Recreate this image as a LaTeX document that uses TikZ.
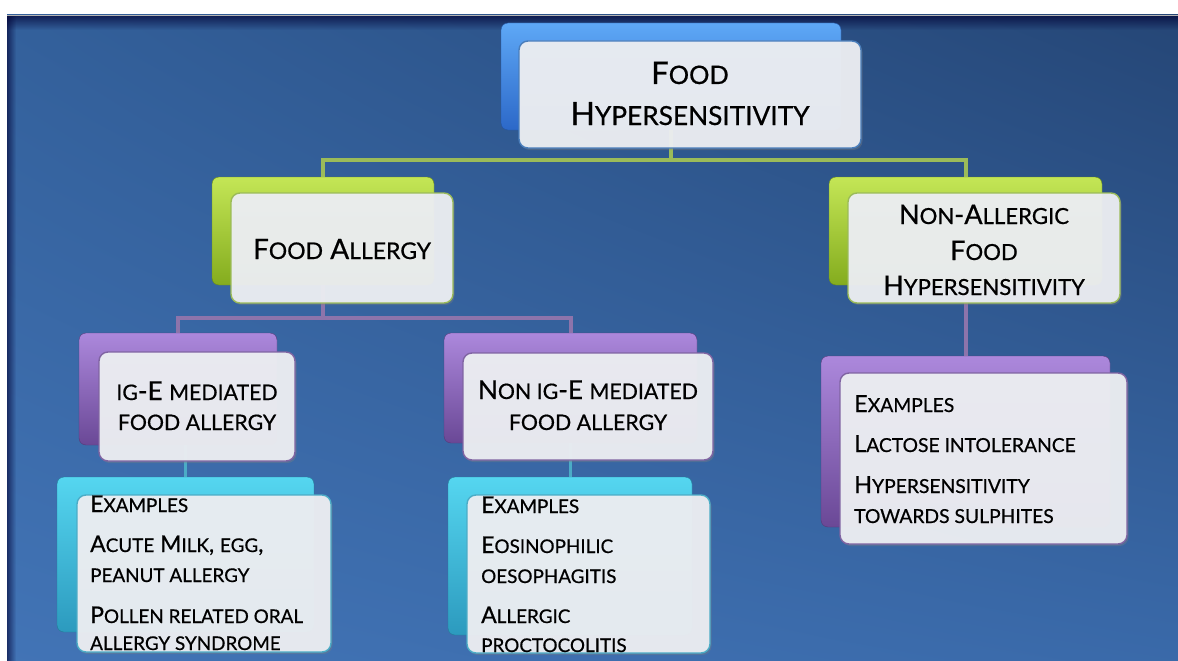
\documentclass[tikz,border=0pt]{standalone}
\usepackage{fontspec}
\setmainfont{Lato}[FakeBold=0.6]
\usetikzlibrary{fadings,shadows,shadings}
\makeatletter
\newcommand\smc[1]{{\fontsize{\fpeval{0.82*\f@size}}{0}\selectfont #1}}
\makeatother
\newcommand\fs[1]{\fontsize{#1}{#1}\selectfont}
\definecolor{bgUL}{HTML}{33609B}
\definecolor{bgUR}{HTML}{254676}
\definecolor{bgLL}{HTML}{4274B6}
\definecolor{bgLR}{HTML}{3A6AAA}
\definecolor{bluetop}{HTML}{5EA8F6}
\definecolor{bluebot}{HTML}{2C68C8}
\definecolor{blueedge}{HTML}{4A7EBB}
\definecolor{greentop}{HTML}{C4E656}
\definecolor{greenbot}{HTML}{84AC1E}
\definecolor{greenedge}{HTML}{9BBB59}
\definecolor{purptop}{HTML}{AC88DC}
\definecolor{purpbot}{HTML}{6A4896}
\definecolor{purpedge}{HTML}{8064A2}
\definecolor{cyantop}{HTML}{55D6F0}
\definecolor{cyanbot}{HTML}{2C9ABE}
\definecolor{cyanedge}{HTML}{4BACC6}
\definecolor{boxfill}{HTML}{EDEFF3}
\tikzfading[name=topdark, top color=transparent!0, bottom color=transparent!100]
\tikzfading[name=leftdark, left color=transparent!0, right color=transparent!100]
\tikzset{
  backbox/.style 2 args={shade, top color=#1, bottom color=#2, rounded corners=7pt,
    inner sep=0pt, draw=#2!80!black, line width=0.4pt},
  frontbox/.style={fill=boxfill, fill opacity=0.95, draw=#1, line width=1.4pt,
    rounded corners=9pt, inner sep=0pt,
    drop shadow={opacity=0.35, shadow xshift=1.5pt, shadow yshift=-2pt}},
  txt/.style={inner sep=0pt, anchor=base, text=black},
  ltxt/.style={inner sep=0pt, anchor=base west, text=black},
  gconn/.style={draw=greenedge, line width=4pt},
  pconn/.style={draw=purpedge!90!white, line width=4pt},
  cconn/.style={draw=cyanedge, line width=3pt}
}
\begin{document}
\begin{tikzpicture}[x=1pt,y=-1pt]
\useasboundingbox (0,0) rectangle (1178,661);
\fill[white] (-5,-5) rectangle (1185,670);
\shade[upper left=bgUL, upper right=bgUR, lower left=bgLL, lower right=bgLR]
  (7,15) rectangle (1185,670);
\fill[black!80!blue, path fading=topdark, fill opacity=0.7] (7,15) rectangle (1185,30);
\fill[black!80!blue, path fading=leftdark, fill opacity=0.6] (7,15) rectangle (16,670);
\draw[black!30, line width=0.8pt] (7,15) -- (1185,15);

% back boxes
\node[backbox={bluetop}{bluebot}, minimum width=340pt, minimum height=107pt] (b0) at (671,76.5) {};
\node[backbox={greentop}{greenbot}, minimum width=222pt, minimum height=108pt] (gl) at (323,231) {};
\node[backbox={greentop}{greenbot}, minimum width=273pt, minimum height=108pt] (gr) at (965.5,231) {};
\node[backbox={purptop}{purpbot}, minimum width=198pt, minimum height=112pt] (pl) at (178,389) {};
\node[backbox={purptop}{purpbot}, minimum width=253pt, minimum height=110pt] (pm) at (570.5,388) {};
\node[backbox={purptop}{purpbot}, minimum width=289pt, minimum height=171pt] (pr) at (965.5,441.5) {};
\node[backbox={cyantop}{cyanbot}, minimum width=257pt, minimum height=155pt] (cl) at (185.5,554.5) {};
\node[backbox={cyantop}{cyanbot}, minimum width=244pt, minimum height=158pt] (cm) at (570,556) {};

% connectors
\coordinate (j0) at (671,160);
\coordinate (j1) at (323,318);
\draw[gconn] (b0.south) -- (j0) -| (gl.north);
\draw[gconn] (j0) -| (gr.north);
\draw[pconn] (gl.south) -- (j1) -| (pl.north);
\draw[pconn] (j1) -| (pm.north);
\draw[pconn] (gr.south) -- (pr.north);
\draw[cconn] (cl.north |- pl.south) -- (cl.north);
\draw[cconn] (cm.north |- pm.south) -- (cm.north);

% front boxes
\node[frontbox=blueedge, minimum width=342pt, minimum height=107pt] (f0) at (690,94.5) {};
\node[frontbox=greenedge, minimum width=222pt, minimum height=110pt] (fgl) at (342,248) {};
\node[frontbox=greenedge, minimum width=272pt, minimum height=110pt] (fgr) at (984,248) {};
\node[frontbox=purpedge, minimum width=196pt, minimum height=109pt] (fpl) at (197,406.5) {};
\node[frontbox=purpedge, minimum width=250pt, minimum height=107pt] (fpm) at (588,406.5) {};
\node[frontbox=purpedge, minimum width=287pt, minimum height=171pt] (fpr) at (983.5,458.5) {};
\node[frontbox=cyanedge, minimum width=254pt, minimum height=157pt] (fcl) at (204,573.5) {};
\node[frontbox=cyanedge, minimum width=243pt, minimum height=158pt] (fcm) at (588.5,574) {};

% texts
\node[txt, font=\fs{31}] (t0a) at (690,84) {F\smc{OOD}};
\node[txt, font=\fs{32}] (t0b) at (690,125) {H\smc{YPERSENSITIVITY}};

\node[txt, font=\fs{28}] (tgl) at (342,259) {F\smc{OOD} A\smc{LLERGY}};

\node[txt, font=\fs{27}] (tgra) at (984,224) {N\smc{ON}-A\smc{LLERGIC}};
\node[txt, font=\fs{27}] (tgrb) at (984,260) {F\smc{OOD}};
\node[txt, font=\fs{27}] (tgrc) at (984,295) {H\smc{YPERSENSITIVITY}};

\node[txt, font=\fs{26}] (tpla) at (197,400) {\smc{IG}-E \smc{MEDIATED}};
\node[txt, font=\fs{26}] (tplb) at (197,430) {\smc{FOOD ALLERGY}};

\node[txt, font=\fs{26}] (tpma) at (588,399) {N\smc{ON IG}-E \smc{MEDIATED}};
\node[txt, font=\fs{26}] (tpmb) at (588,430) {\smc{FOOD ALLERGY}};

\node[ltxt, font=\fs{23}] (tcl1) at (90,512) {E\smc{XAMPLES}};
\node[ltxt, font=\fs{23}] (tcl2) at (90,552) {A\smc{CUTE} M\smc{ILK}, \smc{EGG},};
\node[ltxt, font=\fs{23}] (tcl3) at (90,582) {\smc{PEANUT ALLERGY}};
\node[ltxt, font=\fs{23}] (tcl4) at (90,623) {P\smc{OLLEN RELATED ORAL}};
\node[ltxt, font=\fs{23}] (tcl5) at (90,650) {\smc{ALLERGY SYNDROME}};

\node[ltxt, font=\fs{23}] (tcm1) at (481,513) {E\smc{XAMPLES}};
\node[ltxt, font=\fs{23}] (tcm2) at (481,553) {E\smc{OSINOPHILIC}};
\node[ltxt, font=\fs{23}] (tcm3) at (481,583) {\smc{OESOPHAGITIS}};
\node[ltxt, font=\fs{23}] (tcm4) at (481,623) {A\smc{LLERGIC}};
\node[ltxt, font=\fs{23}] (tcm5) at (481,652) {\smc{PROCTOCOLITIS}};

\node[ltxt, font=\fs{23.5}] (tpr1) at (854,412) {E\smc{XAMPLES}};
\node[ltxt, font=\fs{23.5}] (tpr2) at (854,452) {L\smc{ACTOSE INTOLERANCE}};
\node[ltxt, font=\fs{23.5}] (tpr3) at (854,493) {H\smc{YPERSENSITIVITY}};
\node[ltxt, font=\fs{23.5}] (tpr4) at (854,523) {\smc{TOWARDS SULPHITES}};
\end{tikzpicture}
\end{document}
